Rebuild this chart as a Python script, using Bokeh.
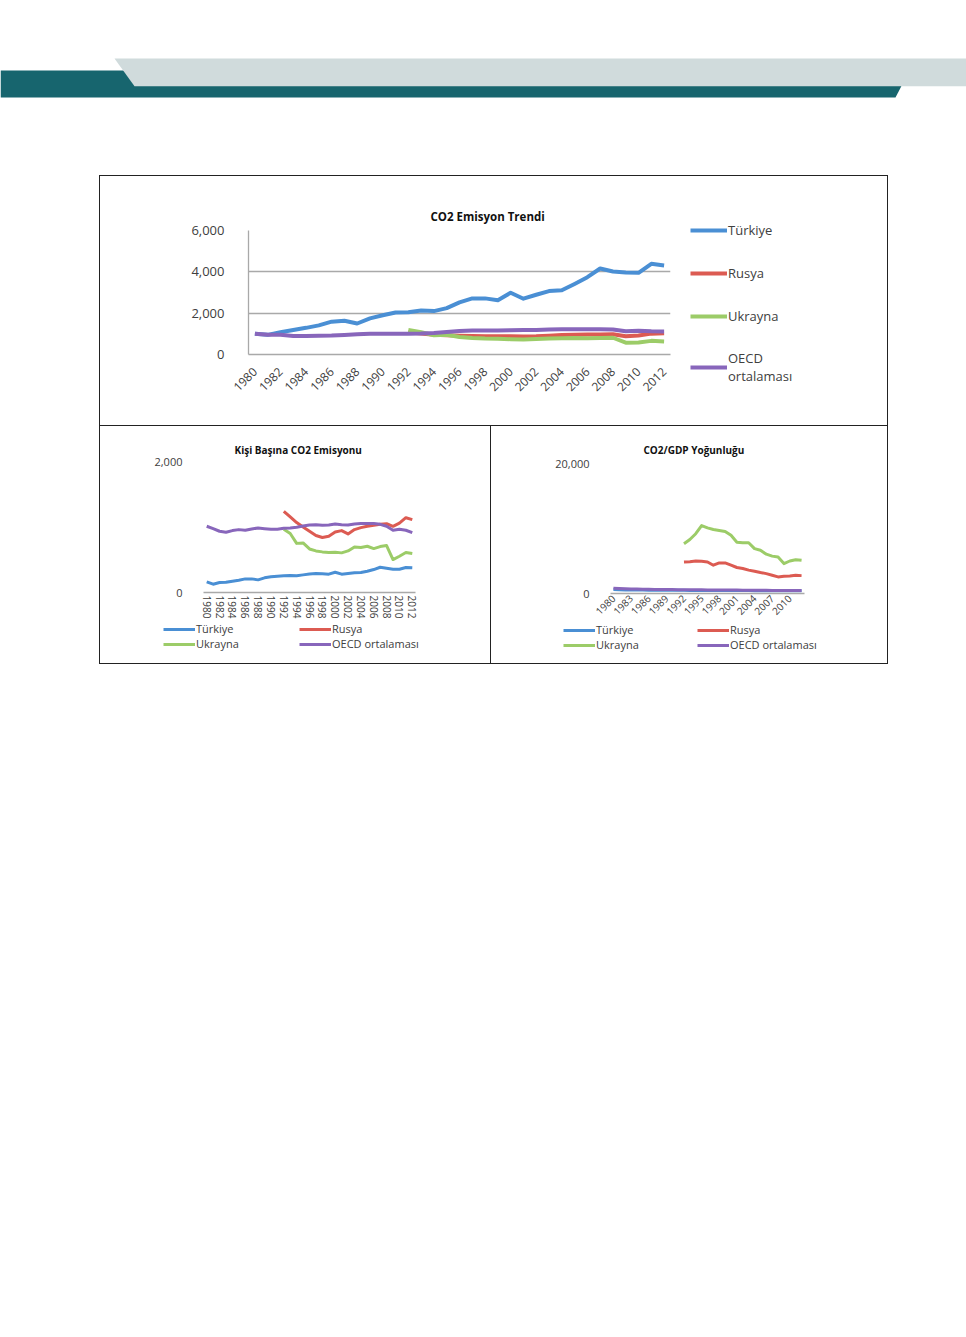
import math
from bokeh.plotting import figure
from bokeh.models import (Range1d, FixedTicker, NumeralTickFormatter, Legend,
                          LegendItem, Spacer, Title)
from bokeh.layouts import column, row
from bokeh.embed import file_html
from bokeh.resources import INLINE

NaN = float("nan")

# ---------------- data ----------------
years = list(range(1980, 2013))
pre92 = [NaN] * 12

# CO2 Emisyon Trendi
tr_total = [1000, 950, 1080, 1190, 1290, 1410, 1590, 1635, 1500, 1750, 1900, 2035, 2040,
            2130, 2100, 2245, 2520, 2715, 2715, 2630, 2990, 2700, 2890, 3070, 3105,
            3415, 3740, 4160, 4015, 3970, 3950, 4390, 4310]
ru_total = pre92 + [1080, 1010, 950, 930, 910, 890, 880, 880, 885, 870, 880, 910, 940,
                    955, 965, 965, 975, 880, 920, 1010, 1030]
uk_total = pre92 + [1190, 1080, 930, 960, 850, 800, 770, 760, 740, 730, 750, 770, 790,
                    800, 790, 800, 810, 570, 580, 660, 630]
oecd_total = [1005, 960, 950, 900, 895, 905, 915, 945, 975, 1000, 1005, 1005, 1010, 1015,
              1040, 1090, 1140, 1160, 1160, 1165, 1175, 1180, 1185, 1210, 1220, 1220,
              1220, 1220, 1210, 1120, 1145, 1120, 1110]

# Kişi Başına CO2 Emisyonu
tr_pc = [163, 127, 152, 155, 173, 188, 208, 208, 193, 224, 239, 249, 254, 259, 255, 269,
         284, 290, 288, 280, 310, 280, 290, 300, 305, 325, 350, 386, 371, 356, 356, 381, 376]
ru_pc = pre92 + [1240, 1153, 1067, 1000, 935, 870, 840, 860, 925, 945, 895, 960, 990,
                 1011, 1026, 1041, 1051, 1010, 1060, 1142, 1112]
uk_pc = pre92 + [965, 900, 750, 757, 665, 635, 620, 610, 615, 605, 635, 696, 686, 706,
                 670, 701, 716, 503, 554, 610, 594]
oecd_pc = [1011, 975, 935, 920, 945, 960, 950, 970, 985, 975, 965, 965, 980, 985, 996,
           1016, 1031, 1036, 1026, 1031, 1046, 1036, 1031, 1046, 1052, 1052, 1052, 1041,
           1011, 950, 965, 950, 915]

# CO2/GDP Yoğunluğu
tr_gdp = [600, 560, 540, 530, 520, 520, 510, 500, 500, 500, 490, 490, 490, 480, 480, 470,
          470, 470, 460, 460, 460, 450, 450, 450, 440, 440, 430, 430, 420, 420, 420, 410, 410]
ru_gdp = pre92 + [4850, 4900, 5000, 4950, 4850, 4350, 4700, 4700, 4350, 4000, 3850, 3600,
                  3420, 3220, 3060, 2810, 2550, 2650, 2700, 2800, 2750]
uk_gdp = pre92 + [7650, 8300, 9200, 10450, 10100, 9850, 9700, 9550, 8950, 7900, 7800,
                  7800, 6900, 6650, 6050, 5750, 5600, 4600, 5000, 5200, 5100]
oecd_gdp = [800, 780, 740, 700, 680, 660, 640, 630, 620, 610, 600, 590, 580, 580, 570, 560,
            550, 550, 540, 530, 520, 520, 510, 510, 500, 500, 490, 480, 480, 470, 470, 460, 460]

series_names = ["Türkiye", "Rusya", "Ukrayna", "OECD ortalaması"]
top_legend_labels = ["Türkiye", "Rusya", "Ukrayna", "OECD\nortalaması"]
titles = ["CO2 Emisyon Trendi", "Kişi Başına CO2 Emisyonu", "CO2/GDP Yoğunluğu"]
ticks_top = list(range(1980, 2013, 2))
ticks_pc = list(range(1980, 2013, 2))
ticks_gdp = list(range(1980, 2011, 3))
yticks_top = [0, 2000, 4000, 6000]
yticks_pc = [0, 2000]
yticks_gdp = [0, 20000]

COLORS = ["#4a8fd4", "#dc5b52", "#9ccc68", "#8866bb"]
GRID = "#a9a9a9"
FONT = "Open Sans"
TXT = "#404040"
BORDER = "#222222"
BOX_STYLE = {"outline": "1px solid " + BORDER, "outline-offset": "0px"}

# ---------------- header banner ----------------
hdr = figure(width=966, height=176, x_range=Range1d(0, 966), y_range=Range1d(176, 0),
             x_axis_type=None, y_axis_type=None, toolbar_location=None,
             output_backend="svg", min_border=0, frame_align=False)
hdr.outline_line_color = None
hdr.patch([0, 909, 895, 0], [70, 70, 97, 97], fill_color="#17656e", line_color=None)
hdr.patch([114, 966, 966, 134], [58, 58, 85.7, 85.7], fill_color="#d0dbdc", line_color=None)


def make_fig(w, h, ml, mr, mt, mb, ymax, yticks, xticks, orient, xfs, yfs, yaxis_line):
    p = figure(width=w, height=h, x_range=Range1d(1979.5, 2012.5),
               y_range=Range1d(0, ymax), toolbar_location=None, output_backend="svg",
               min_border_left=ml, min_border_right=mr, min_border_top=mt,
               min_border_bottom=mb, frame_align=False)
    p.outline_line_color = None
    p.xgrid.grid_line_color = None
    p.ygrid.grid_line_color = GRID
    p.ygrid.grid_line_width = 1.3
    p.xaxis.ticker = FixedTicker(ticks=xticks)
    p.yaxis.ticker = FixedTicker(ticks=yticks)
    p.yaxis.formatter = NumeralTickFormatter(format="0,0")
    p.xaxis.major_label_orientation = orient
    p.axis.major_tick_line_color = None
    p.axis.minor_tick_line_color = None
    p.xaxis.major_tick_out = 0
    p.xaxis.minor_tick_out = 0
    p.axis.major_label_text_font = FONT
    p.axis.major_label_text_color = TXT
    p.xaxis.major_label_text_font_size = xfs
    p.yaxis.major_label_text_font_size = yfs
    p.xaxis.axis_line_color = GRID
    p.xaxis.axis_line_width = 1.3
    p.yaxis.axis_line_color = GRID if yaxis_line else None
    p.yaxis.axis_line_width = 1.3
    return p


def add_lines(p, data, lw):
    return [p.line(years, vals, line_color=c, line_width=lw, line_join="round")
            for vals, c in zip(data, COLORS)]


def add_title(p, text, offset, standoff, fs):
    p.add_layout(Title(text=text, align="left", offset=offset, standoff=standoff,
                       text_font=FONT, text_font_size=fs, text_font_style="bold",
                       text_color="#111111", vertical_align="bottom"), "above")


def legend_fig(w, h, ml, mt, data, labels, lw, fs, glyph_w, lab_h, spacing, ncols,
               orientation, label_width):
    """A figure that only shows a legend (its lines lie outside its ranges)."""
    p = figure(width=w, height=h, x_range=Range1d(0, 1), y_range=Range1d(0, 1),
               x_axis_type=None, y_axis_type=None, toolbar_location=None,
               output_backend="svg", min_border_left=ml, min_border_top=mt,
               min_border_right=0, min_border_bottom=0, frame_align=False)
    p.outline_line_color = None
    rs = add_lines(p, data, lw)
    leg = Legend(items=[LegendItem(label=l, renderers=[r]) for l, r in zip(labels, rs)],
                 location="top_left", ncols=ncols, orientation=orientation,
                 label_text_font=FONT, label_text_font_size=fs, label_text_color=TXT,
                 glyph_width=glyph_w, glyph_height=lab_h, label_height=lab_h,
                 label_width=label_width, spacing=spacing, padding=0, margin=0,
                 label_standoff=1, border_line_color=None, background_fill_alpha=0)
    p.add_layout(leg)
    return p


# ---------------- top chart ----------------
top_data = [tr_total, ru_total, uk_total, oecd_total]
top = make_fig(580, 249, 148, 10, 54, 71, 6000, yticks_top, ticks_top, math.pi / 4,
               "12px", "13px", True)
top.yaxis.major_label_standoff = 18
top.xaxis.major_label_standoff = 15
add_lines(top, top_data, 4)
add_title(top, titles[0], 182, 14, "11.5px")
top_leg = legend_fig(207, 249, 10, 44, top_data, top_legend_labels, 4, "13px", 37, 20, 23,
                     1, "vertical", 20)

# ---------------- bottom left ----------------
pc_data = [tr_pc, ru_pc, uk_pc, oecd_pc]
pc = make_fig(390, 195, 103, 75, 35, 29, 2000, yticks_pc, ticks_pc, "vertical",
              "10px", "11px", False)
pc.yaxis.major_label_standoff = 15
pc.xaxis.major_label_standoff = 3
add_lines(pc, pc_data, 3)
add_title(pc, titles[1], 31, 10, "10px")
pc_leg = legend_fig(390, 42, 63, 0, pc_data, series_names, 3, "11px", 32, 14, 0, 2,
                    "horizontal", 103)

# ---------------- bottom right ----------------
gdp_data = [tr_gdp, ru_gdp, uk_gdp, oecd_gdp]
gdp = make_fig(396, 196, 119, 83, 37, 29, 20000, yticks_gdp, ticks_gdp, math.pi / 4,
               "10px", "11px", False)
gdp.yaxis.major_label_standoff = 15
gdp.xaxis.major_label_standoff = 3
add_lines(gdp, gdp_data, 3)
add_title(gdp, titles[2], 33, 14, "10px")
gdp_leg = legend_fig(396, 41, 72, 0, gdp_data, series_names, 3, "11px", 32, 14, 0, 2,
                     "horizontal", 101)

top_box = row(top, top_leg, spacing=0, styles=BOX_STYLE)
pc_box = column(pc, pc_leg, spacing=0, styles=BOX_STYLE)
gdp_box = column(gdp, gdp_leg, spacing=0, styles=BOX_STYLE)

bottom_row = row(Spacer(width=100, height=237), pc_box, Spacer(width=1, height=237),
                 gdp_box, spacing=0, styles={"margin-top": "1px"})

layout = column(
    hdr,
    row(Spacer(width=100, height=249), top_box, spacing=0),
    bottom_row,
    spacing=0,
)

open("out.html", "w").write(file_html(layout, INLINE))
